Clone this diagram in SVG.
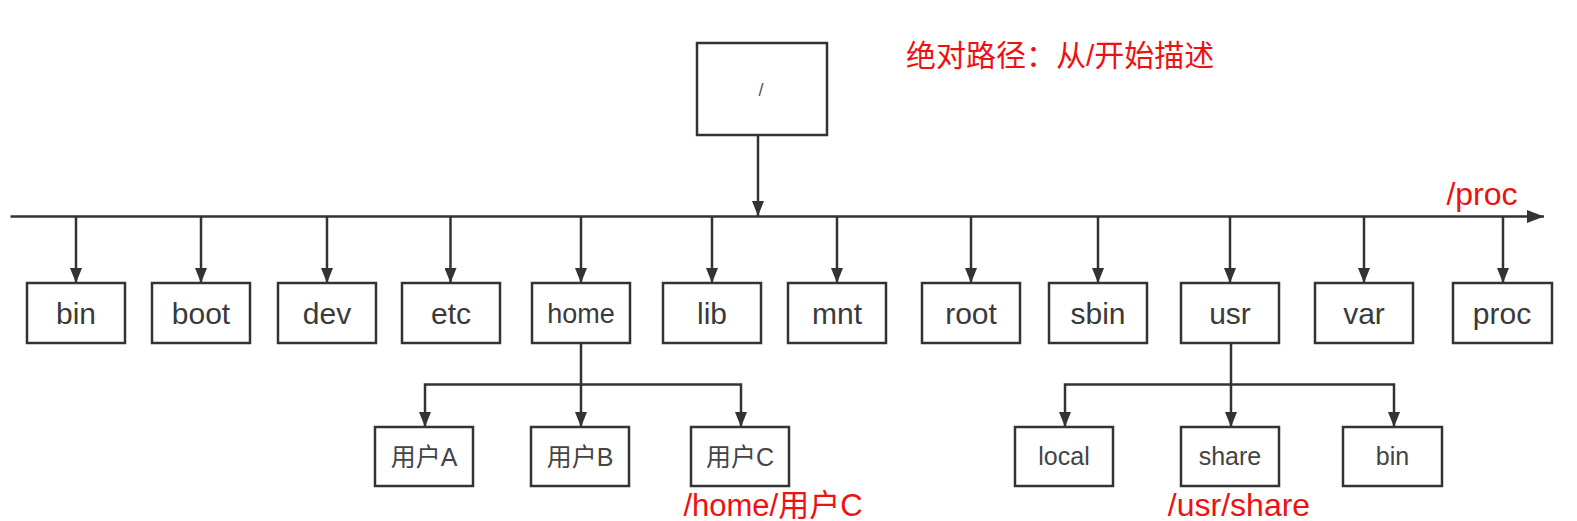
<svg xmlns="http://www.w3.org/2000/svg" width="1577" height="521" viewBox="0 0 1577 521">
<defs>
<marker id="arr" markerUnits="userSpaceOnUse" markerWidth="16" markerHeight="12" refX="15" refY="6" orient="auto">
<path d="M0,0 L15,6 L0,12 Z" fill="#333"/>
</marker>
<marker id="arrBig" markerUnits="userSpaceOnUse" markerWidth="18" markerHeight="13" refX="17" refY="6.5" orient="auto">
<path d="M0,0 L17,6.5 L0,13 Z" fill="#333"/>
</marker>
<style>
.box{fill:#fff;stroke:#333;stroke-width:2.5}
.lbl{font-family:"Liberation Sans","Noto Sans CJK SC",sans-serif;font-size:30px;fill:#3a3a3a;text-anchor:middle}
.sub{font-family:"Liberation Sans","Noto Sans CJK SC",sans-serif;font-size:25px;fill:#444;text-anchor:middle}
.red{font-family:"Liberation Sans","Noto Sans CJK SC",sans-serif;fill:#ee1111}
.ln{fill:none;stroke:#333;stroke-width:2.5}
.ar{fill:none;stroke:#333;stroke-width:2.5;marker-end:url(#arr)}
</style>
</defs>
<rect width="1577" height="521" fill="#fff"/>

<g id="connectors">
<line class="ar" x1="758" y1="135" x2="758" y2="216"/>
<line class="ln" x1="10.5" y1="216.5" x2="1544" y2="216.5" style="marker-end:url(#arrBig)"/>
<line class="ar" x1="76" y1="216.5" x2="76" y2="283"/>
<line class="ar" x1="201" y1="216.5" x2="201" y2="283"/>
<line class="ar" x1="327" y1="216.5" x2="327" y2="283"/>
<line class="ar" x1="450.5" y1="216.5" x2="450.5" y2="283"/>
<line class="ar" x1="581" y1="216.5" x2="581" y2="283"/>
<line class="ar" x1="712" y1="216.5" x2="712" y2="283"/>
<line class="ar" x1="837" y1="216.5" x2="837" y2="283"/>
<line class="ar" x1="971" y1="216.5" x2="971" y2="283"/>
<line class="ar" x1="1098" y1="216.5" x2="1098" y2="283"/>
<line class="ar" x1="1230" y1="216.5" x2="1230" y2="283"/>
<line class="ar" x1="1364" y1="216.5" x2="1364" y2="283"/>
<line class="ar" x1="1503" y1="216.5" x2="1503" y2="283"/>
<line class="ar" x1="581" y1="343" x2="581" y2="427"/>
<polyline class="ar" points="581,384.5 425,384.5 425,427"/>
<polyline class="ar" points="581,384.5 741,384.5 741,427"/>
<line class="ar" x1="1231" y1="343" x2="1231" y2="427"/>
<polyline class="ar" points="1231,384.5 1065,384.5 1065,427"/>
<polyline class="ar" points="1231,384.5 1394,384.5 1394,427"/>
</g>

<g id="node-root"><rect class="box" x="697" y="43" width="130" height="92"/><text x="761" y="96" style="font-family:'Liberation Sans',sans-serif;font-size:18px;fill:#555;text-anchor:middle">/</text></g>

<g id="node-bin"><rect class="box" x="27" y="283" width="98" height="60"/><text class="lbl" x="76" y="324">bin</text></g>
<g id="node-boot"><rect class="box" x="152" y="283" width="98" height="60"/><text class="lbl" x="201" y="324">boot</text></g>
<g id="node-dev"><rect class="box" x="278" y="283" width="98" height="60"/><text class="lbl" x="327" y="324">dev</text></g>
<g id="node-etc"><rect class="box" x="402" y="283" width="98" height="60"/><text class="lbl" x="451" y="324">etc</text></g>
<g id="node-home"><rect class="box" x="532" y="283" width="98" height="60"/><text class="lbl" x="581" y="323" style="font-size:27px">home</text></g>
<g id="node-lib"><rect class="box" x="663" y="283" width="98" height="60"/><text class="lbl" x="712" y="324">lib</text></g>
<g id="node-mnt"><rect class="box" x="788" y="283" width="98" height="60"/><text class="lbl" x="837" y="324">mnt</text></g>
<g id="node-root-dir"><rect class="box" x="922" y="283" width="98" height="60"/><text class="lbl" x="971" y="324">root</text></g>
<g id="node-sbin"><rect class="box" x="1049" y="283" width="98" height="60"/><text class="lbl" x="1098" y="324">sbin</text></g>
<g id="node-usr"><rect class="box" x="1181" y="283" width="98" height="60"/><text class="lbl" x="1230" y="324">usr</text></g>
<g id="node-var"><rect class="box" x="1315" y="283" width="98" height="60"/><text class="lbl" x="1364" y="324">var</text></g>
<g id="node-proc"><rect class="box" x="1453" y="283" width="99" height="60"/><text class="lbl" x="1502" y="324">proc</text></g>

<g id="node-userA"><rect class="box" x="375" y="427" width="98" height="59"/><text class="sub" x="424" y="466">用户A</text></g>
<g id="node-userB"><rect class="box" x="531" y="427" width="98" height="59"/><text class="sub" x="580" y="466">用户B</text></g>
<g id="node-userC"><rect class="box" x="691" y="427" width="98" height="59"/><text class="sub" x="740" y="466">用户C</text></g>
<g id="node-local"><rect class="box" x="1015" y="427" width="98" height="59"/><text class="sub" x="1064" y="465">local</text></g>
<g id="node-share"><rect class="box" x="1181" y="427" width="98" height="59"/><text class="sub" x="1230" y="465">share</text></g>
<g id="node-bin2"><rect class="box" x="1343" y="427" width="99" height="59"/><text class="sub" x="1392.5" y="465">bin</text></g>

<g id="annotations">
<text class="red" x="906" y="66" style="font-size:30px">绝对路径：从/开始描述</text>
<text class="red" x="1482" y="205" style="font-size:32px;text-anchor:middle">/proc</text>
<text class="red" x="773" y="516" style="font-size:31px;text-anchor:middle">/home/用户C</text>
<text class="red" x="1239" y="516" style="font-size:32px;text-anchor:middle">/usr/share</text>
</g>
</svg>
